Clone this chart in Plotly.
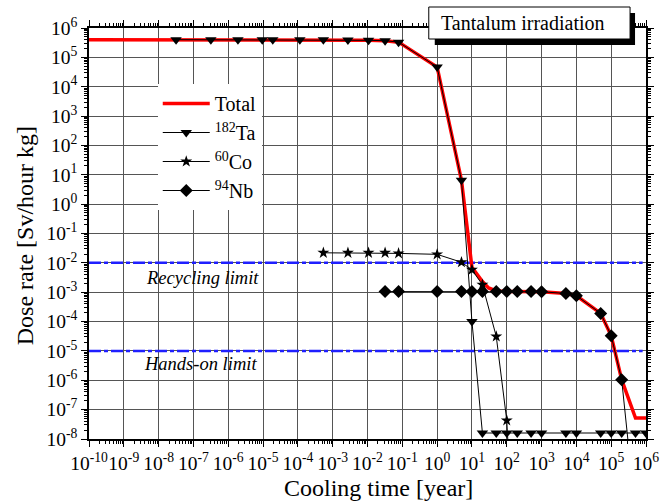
import plotly.graph_objects as go

# ---------------- data ----------------
t_ta = [3.17e-8, 3.17e-7, 1.9e-6, 9.5e-6, 1.9e-5, 1.14e-4, 5.4e-4, 2.74e-3, 1.07e-2, 3.2e-2, 7.8e-2,
        1, 5, 10, 20, 50, 100, 200, 500, 1e3, 5e3, 1e4, 5e4, 1e5, 2e5, 5e5, 1e6]
ta = [4.0e5, 4.0e5, 4.0e5, 4.0e5, 4.0e5, 4.0e5, 3.95e5, 3.9e5, 3.8e5, 3.7e5, 3.3e5,
      4.7e4, 6.5, 1.0e-4, 1.6e-8, 1.6e-8, 1.6e-8, 1.6e-8, 1.6e-8, 1.6e-8, 1.6e-8, 1.6e-8,
      1.6e-8, 1.6e-8, 1.6e-8, 1.6e-8, 1.6e-8]

t_co = [5.4e-4, 2.74e-3, 1.07e-2, 3.2e-2, 7.8e-2, 1, 5, 10, 20, 50, 100, 200]
co = [2.2e-2, 2.2e-2, 2.2e-2, 2.2e-2, 2.1e-2, 1.95e-2, 1.05e-2, 5.8e-3, 1.8e-3, 3.1e-5, 4.3e-8, 1e-14]

t_nb = [3.2e-2, 7.8e-2, 1, 5, 10, 20, 50, 100, 200, 500, 1e3, 5e3, 1e4, 5e4, 1e5, 2e5, 5e5]
nb = [1.05e-3, 1.05e-3, 1.05e-3, 1.05e-3, 1.05e-3, 1.05e-3, 1.05e-3, 1.05e-3, 1.05e-3, 1.05e-3,
      1.03e-3, 9.1e-4, 7.6e-4, 1.9e-4, 3.3e-5, 1.05e-6, 3e-11]

t_total = [1e-10, 3.17e-8, 3.17e-7, 1.9e-6, 9.5e-6, 1.9e-5, 1.14e-4, 5.4e-4, 2.74e-3, 1.07e-2, 3.2e-2,
           7.8e-2, 1, 5, 10, 15, 20, 30, 50, 100, 200, 500, 1e3, 5e3, 1e4, 5e4, 1e5, 2e5, 5e5, 1e6]
total = [4.0e5, 4.0e5, 4.0e5, 4.0e5, 4.0e5, 4.0e5, 4.0e5, 3.95e5, 3.9e5, 3.8e5, 3.7e5,
         3.3e5, 4.7e4, 6.5, 7.0e-3, 3.4e-3, 2.3e-3, 1.4e-3, 1.1e-3, 1.06e-3, 1.05e-3, 1.05e-3,
         1.03e-3, 9.1e-4, 7.6e-4, 1.9e-4, 3.3e-5, 1.05e-6, 5.2e-8, 5.2e-8]

t_limit = [1e-10, 8e5]
recycling_limit = [1e-2, 1e-2]
handson_limit = [1e-5, 1e-5]

x_exps = list(range(-10, 7))
y_exps = list(range(-8, 7))
x_ticktext = [f"10<sup>{e}</sup>" for e in x_exps]
y_ticktext = [f"10<sup>{e}</sup>" for e in y_exps]

FONT = "Liberation Serif"

# ---------------- figure ----------------
fig = go.Figure()

blue_dash = "12px,3px,4px,3px"
fig.add_trace(go.Scatter(x=t_limit, y=recycling_limit, mode="lines",
                         line=dict(color="#1f1fff", width=2.5, dash=blue_dash),
                         showlegend=False, hoverinfo="skip"))
fig.add_trace(go.Scatter(x=t_limit, y=handson_limit, mode="lines",
                         line=dict(color="#1f1fff", width=2.5, dash=blue_dash),
                         showlegend=False, hoverinfo="skip"))

fig.add_trace(go.Scatter(x=t_total, y=total, mode="lines", name="Total",
                         line=dict(color="#ff0000", width=3.5)))
fig.add_trace(go.Scatter(x=t_ta, y=ta, mode="lines+markers", name="<sup>182</sup>Ta",
                         line=dict(color="black", width=1),
                         marker=dict(symbol="triangle-down", size=10, color="black")))
fig.add_trace(go.Scatter(x=t_co, y=co, mode="lines+markers", name="<sup>60</sup>Co",
                         line=dict(color="black", width=1),
                         marker=dict(symbol="star", size=9, color="black")))
fig.add_trace(go.Scatter(x=t_nb, y=nb, mode="lines+markers", name="<sup>94</sup>Nb",
                         line=dict(color="black", width=1),
                         marker=dict(symbol="diamond", size=10, color="black")))

axis_common = dict(
    type="log",
    showgrid=True, gridcolor="#555555", gridwidth=1,
    showline=True, linecolor="black", linewidth=1.5, mirror="allticks",
    ticks="outside", ticklen=6, tickcolor="black", tickwidth=1.2,
    tickmode="array", tickangle=0,
    tickfont=dict(family=FONT, size=19.5, color="black"),
    minor=dict(ticks="outside", ticklen=3, tickcolor="black", dtick="D1", showgrid=False),
    zeroline=False,
)

fig.update_xaxes(**axis_common, range=[-10, 6],
                 tickvals=[10.0 ** e for e in x_exps], ticktext=x_ticktext)
fig.update_yaxes(**axis_common, range=[-8, 6],
                 tickvals=[10.0 ** e for e in y_exps], ticktext=y_ticktext)

L, R, T, B = 89, 648, 28, 439
W, H = 671, 502
def px(x):
    return (x - L) / (R - L)
def py(y):
    return (B - y) / (B - T)

shapes = [
    dict(type="rect", xref="paper", yref="paper", x0=px(436), x1=px(637), y0=py(45), y1=py(13),
         fillcolor="black", line=dict(width=0), layer="above"),
    dict(type="rect", xref="paper", yref="paper", x0=px(430), x1=px(632), y0=py(39), y1=py(7),
         fillcolor="white", line=dict(color="black", width=1), layer="above"),
]

annotations = [
    dict(text="Tantalum irradiation", xref="paper", yref="paper", x=px(525), y=py(23),
         showarrow=False, font=dict(family=FONT, size=20, color="black"),
         xanchor="center", yanchor="middle"),
    dict(text="<i>Recycling limit</i>", xref="paper", yref="paper", x=px(203), y=py(278),
         showarrow=False, font=dict(family=FONT, size=18.5, color="black"),
         xanchor="center", yanchor="middle"),
    dict(text="<i>Hands-on limit</i>", xref="paper", yref="paper", x=px(201), y=py(364),
         showarrow=False, font=dict(family=FONT, size=18.5, color="black"),
         xanchor="center", yanchor="middle"),
    dict(text="Cooling time [year]", xref="paper", yref="paper", x=px(380), y=py(488),
         showarrow=False, font=dict(family=FONT, size=24, color="black"),
         xanchor="center", yanchor="middle"),
    dict(text="Dose rate [Sv/hour kg]", xref="paper", yref="paper", x=px(25), y=py(236),
         showarrow=False, textangle=-90, font=dict(family=FONT, size=24, color="black"),
         xanchor="center", yanchor="middle"),
]

fig.update_layout(
    width=W, height=H,
    margin=dict(l=L, r=W - R, t=T, b=H - B),
    paper_bgcolor="white", plot_bgcolor="white",
    font=dict(family=FONT, color="black"),
    showlegend=True,
    legend=dict(x=px(158), y=py(84), xanchor="left", yanchor="top",
                bgcolor="white", borderwidth=0,
                font=dict(family=FONT, size=20, color="black"),
                itemwidth=47, tracegroupgap=0),
    shapes=shapes,
    annotations=annotations,
)

fig.write_html("out.html")
